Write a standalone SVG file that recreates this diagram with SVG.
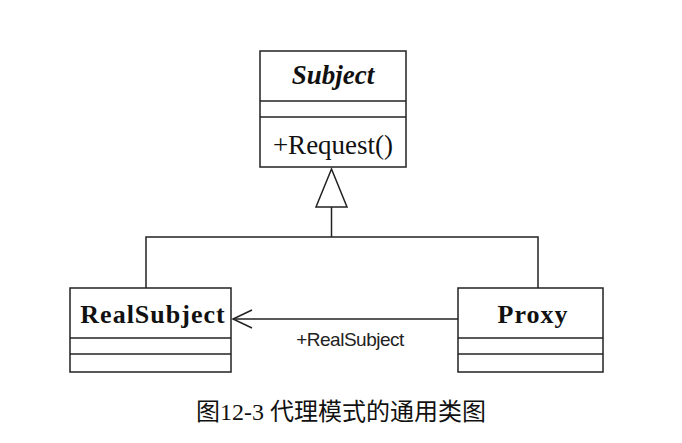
<svg xmlns="http://www.w3.org/2000/svg" width="682" height="443" viewBox="0 0 682 443">
<style>
.b{fill:#fff;stroke:#222;stroke-width:1.5}
.l{stroke:#222;stroke-width:1.5;fill:none}
.t{font-family:"Liberation Serif",serif;fill:#111}
</style>
<rect width="682" height="443" fill="#fff"/>
<g id="subject">
<rect class="b" x="260" y="51" width="146" height="116"/>
<line class="l" x1="260" y1="101" x2="406" y2="101"/>
<line class="l" x1="260" y1="117" x2="406" y2="117"/>
<text class="t" x="333" y="84" text-anchor="middle" font-size="27" font-weight="bold" font-style="italic">Subject</text>
<text class="t" x="333" y="154" text-anchor="middle" font-size="27">+Request()</text>
</g>
<g id="realsubject">
<rect class="b" x="70" y="288" width="161" height="84"/>
<line class="l" x1="70" y1="338" x2="231" y2="338"/>
<line class="l" x1="70" y1="354" x2="231" y2="354"/>
<text class="t" x="153" y="323" text-anchor="middle" font-size="26" font-weight="bold" letter-spacing="1">RealSubject</text>
</g>
<g id="proxy">
<rect class="b" x="458" y="288" width="145" height="84"/>
<line class="l" x1="458" y1="338" x2="603" y2="338"/>
<line class="l" x1="458" y1="354" x2="603" y2="354"/>
<text class="t" x="533" y="323" text-anchor="middle" font-size="26" font-weight="bold" letter-spacing="1">Proxy</text>
</g>
<g id="connectors">
<polygon class="b" points="331.5,169 316,207 347,207"/>
<polyline class="l" points="331.5,207 331.5,237"/>
<polyline class="l" points="146,288 146,237 538,237 538,288"/>
<line class="l" x1="233" y1="319" x2="458" y2="319"/>
<polyline class="l" points="252,310 233,319 252,328"/>
<text x="350" y="346" text-anchor="middle" font-family="Liberation Sans,sans-serif" font-size="19" fill="#222" letter-spacing="-0.5">+RealSubject</text>
</g>
<text x="341" y="420" text-anchor="middle" font-family="Liberation Serif,Noto Sans CJK SC,serif" font-size="24" fill="#111">图12-3 代理模式的通用类图</text>
</svg>
